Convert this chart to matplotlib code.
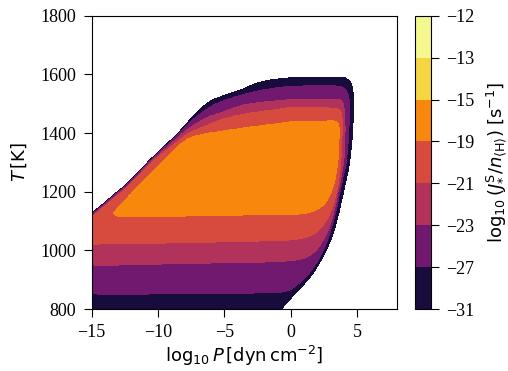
import numpy as np
import matplotlib
matplotlib.use("Agg")
import matplotlib.pyplot as plt
from matplotlib.path import Path

plt.rcParams['font.family'] = ['Liberation Serif', 'DejaVu Serif']
plt.rcParams['mathtext.fontset'] = 'dejavusans'
plt.rcParams['font.size'] = 13

# contour levels (log10 J / n) and the value inside each nested region
levels = [-31, -27, -23, -21, -19, -15, -13, -12]
band_values = [-29, -25, -22, -20, -17]

# region boundaries: (log10 P, T) for Z >= level
outer_P = [-17.0, -15.0, -13.5, -12.0, -10.5, -8.73, -8.0, -7.2, -6.23, -4.98, -3.72,
           -2.48, -1.22, 0.0, 2.0, 3.6, 4.03, 4.4, 4.62, 4.75, 4.78, 4.72, 4.5, 4.3,
           4.1, 3.65, 3.2, 2.6, 1.8, 0.9, 0.0, -0.7, -0.85, -1.2, -17.0]
outer_T = [1050, 1126, 1183, 1240, 1315, 1388, 1424, 1465, 1507, 1530, 1547,
           1573, 1584, 1589, 1591, 1591, 1590, 1582, 1565, 1535, 1490, 1421, 1308, 1260,
           1220, 1126, 1050, 990, 925, 878, 835, 800, 780, 700, 700]

r27_P = [-17.0, -10.0, -2.0, -0.5, 0.0, 0.65, 1.65, 2.66, 3.4, 3.9, 4.26, 4.41, 4.45,
         4.35, 4.03, 3.4, -0.35, -2.85, -5.35, -6.23, -7.2, -8.0, -8.73, -10.5, -12.0,
         -13.5, -15.0, -17.0]
r27_T = [847, 852, 854, 858, 866, 888, 933, 1012, 1126, 1240, 1308, 1421, 1500,
         1535, 1556, 1562, 1560, 1541, 1507, 1484, 1452, 1418, 1383, 1311, 1236,
         1179, 1122, 1046]

r23_P = [-17.0, -10.0, -5.0, -1.0, 0.65, 1.65, 2.53, 3.15, 3.78, 4.05, 4.12, 4.05,
         3.85, 3.5, 0.0, -2.5, -3.72, -5.35, -6.23, -7.2, -8.0, -8.73, -10.5, -12.0,
         -13.5, -15.0, -17.0]
r23_T = [946, 953, 957, 961, 967, 984, 1035, 1103, 1240, 1308, 1421, 1490,
         1512, 1516, 1515, 1503, 1495, 1467, 1456, 1430, 1405, 1374, 1306, 1231,
         1174, 1117, 1041]

r21_P = [-17.0, -10.0, -5.0, -1.0, 0.0, 0.8, 1.9, 2.78, 3.28, 3.66, 3.8, 3.9, 3.85,
         3.6, 0.0, -0.47, -3.72, -5.35, -6.23, -7.2, -8.0, -8.73, -10.5, -12.0,
         -13.5, -15.0, -17.0]
r21_T = [1019, 1025, 1029, 1033, 1036, 1040, 1055, 1103, 1160, 1240, 1308, 1421, 1470,
         1486, 1487, 1484, 1464, 1444, 1427, 1410, 1390, 1362, 1301, 1226,
         1169, 1112, 1036]

r19_P = [-13.3, -13.0, -12.0, -8.0, -4.0, 0.0, 0.65, 1.65, 2.55, 3.03, 3.35, 3.6, 3.66,
         3.58, 3.3, 2.66, 0.0, -0.47, -3.72, -5.48, -6.98, -7.98, -9.23, -11.26, -12.0,
         -13.0, -13.32]
r19_T = [1122, 1116, 1115, 1117, 1120, 1123, 1124, 1130, 1154, 1194, 1240, 1308, 1421,
         1436, 1442, 1441, 1438, 1435, 1416, 1404, 1393, 1376, 1319, 1228, 1194,
         1145, 1130]

xticks = [-15, -10, -5, 0, 5]
yticks = [800, 1000, 1200, 1400, 1600, 1800]


def rounded(px, py, n_iter=3):
    """Chaikin corner rounding of a closed boundary (in axis-normalised units)."""
    sx, sy = 23.0, 1000.0
    pts = np.column_stack([np.asarray(px) / sx, np.asarray(py) / sy])
    for _ in range(n_iter):
        nxt = np.roll(pts, -1, axis=0)
        q = 0.75 * pts + 0.25 * nxt
        r = 0.25 * pts + 0.75 * nxt
        pts = np.empty((2 * len(q), 2))
        pts[0::2] = q
        pts[1::2] = r
    pts[:, 0] *= sx
    pts[:, 1] *= sy
    return pts


# build the field on a grid from the nested regions
Pg = np.linspace(-17.5, 8.0, 1100)
Tg = np.linspace(680, 1800, 1100)
PP, TT = np.meshgrid(Pg, Tg)
grid_pts = np.column_stack([PP.ravel(), TT.ravel()])
Z = np.full(PP.size, np.nan)
prev = np.ones(PP.size, dtype=bool)
regions = [(outer_P, outer_T), (r27_P, r27_T), (r23_P, r23_T), (r21_P, r21_T), (r19_P, r19_T)]
for (rp, rt), val in zip(regions, band_values):
    inside = Path(rounded(rp, rt)).contains_points(grid_pts) & prev
    Z[inside] = val
    prev = inside
Z = Z.reshape(PP.shape)

fig = plt.figure(figsize=(5.08, 3.71), dpi=100)
ax = fig.add_axes([91.5 / 508, (371 - 309) / 371, (396.7 - 91.5) / 508, (309 - 15.7) / 371])
cax = fig.add_axes([415 / 508, (371 - 309) / 371, 15.7 / 508, (309 - 15.7) / 371])

cs = ax.contourf(PP, TT, Z, levels=levels, cmap='inferno')
ax.set_xlim(-15, 8)
ax.set_ylim(800, 1800)
ax.set_xticks(xticks)
ax.set_yticks(yticks)
ax.tick_params(direction='out', length=6, width=0.8, labelsize=13, pad=5)
ax.set_xlabel(r'$\log_{10}P\,[\mathrm{dyn\,cm^{-2}}]$', fontsize=13, labelpad=2)
ax.set_ylabel(r'$T\,[\mathrm{K}]$', fontsize=13, labelpad=8)

cb = fig.colorbar(cs, cax=cax, ticks=levels)
cb.ax.tick_params(direction='out', length=6, width=0.8, labelsize=13, pad=5)
cb.set_label(r'$\log_{10}(J^{\mathrm{S}}_{*}/n_{\langle\mathrm{H}\rangle})\;[\mathrm{s^{-1}}]$',
             fontsize=13, labelpad=8)

fig.savefig('out.png', dpi=100)
